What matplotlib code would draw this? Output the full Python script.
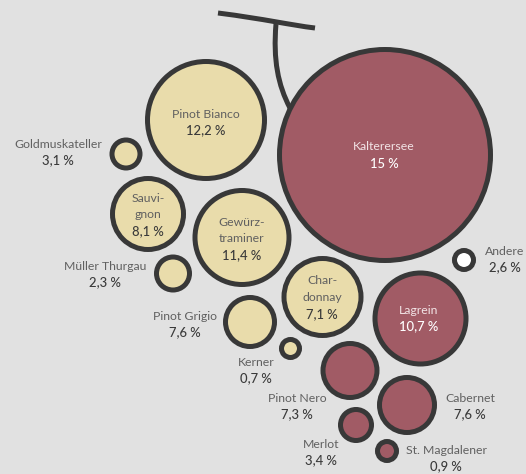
import matplotlib.pyplot as plt
from matplotlib.patches import Circle
from matplotlib.path import Path
from matplotlib.patches import PathPatch

# Rebsorten und Anteile (Prozent)
sorten = ['Kalterersee', 'Pinot Bianco', 'Goldmuskateller', 'Sauvi-\ngnon', 'Gewürz-\ntraminer',
          'Müller Thurgau', 'Pinot Grigio', 'Kerner', 'Char-\ndonnay', 'Lagrein', 'Andere',
          'Pinot Nero', 'Cabernet', 'Merlot', 'St. Magdalener']
anteile = ['15', '12,2', '3,1', '8,1', '11,4', '2,3', '7,6', '0,7', '7,1', '10,7', '2,6',
           '7,3', '7,6', '3,4', '0,9']
art = ['rot', 'weiss', 'weiss', 'weiss', 'weiss', 'weiss', 'weiss', 'weiss', 'weiss', 'rot',
       'andere', 'rot', 'rot', 'rot', 'rot']

# Layout (Pixel): Mittelpunkt und Radius der Beeren
mx = [385, 206, 126, 148, 242, 173, 250, 290.5, 322.5, 420.5, 464, 350, 407, 356, 387]
my = [155, 120, 154, 214, 237.5, 273.5, 322, 348.5, 297, 318.5, 260, 370.5, 405, 425, 451]
rad = [108, 61, 16.5, 38, 49.5, 19, 27, 11.5, 41, 48, 12, 29.5, 30, 18, 12]
# Beschriftung: innen oder Position aussen
innen = [True, True, False, True, True, False, False, False, True, True, False,
         False, False, False, False]
lx = [384, 206, 58, 148, 242, 105, 185, 256, 322, 419, 505, 297, 470, 321, 446]
ly = [147, 114, 144, 198, 222, 266, 316, 362, 281, 310, 251, 398, 398, 444, 450]

farben = {'rot': '#a15b65', 'weiss': '#e9dcab', 'andere': '#ffffff'}
rand = '#383838'
hg = '#e1e1e1'

fig = plt.figure(figsize=(5.26, 4.74), dpi=100)
fig.patch.set_facecolor(hg)
ax = fig.add_axes([0, 0, 1, 1])
ax.set_xlim(0, 526)
ax.set_ylim(474, 0)
ax.set_aspect('equal')
ax.axis('off')

lw = 3.6
# Stiel
stiel1 = Path([(218, 13), (265, 19), (290, 25), (315, 28)],
              [Path.MOVETO, Path.CURVE4, Path.CURVE4, Path.CURVE4])
stiel2 = Path([(276, 24), (273, 60), (278, 85), (290, 108)],
              [Path.MOVETO, Path.CURVE4, Path.CURVE4, Path.CURVE4])
for p in (stiel1, stiel2):
    ax.add_patch(PathPatch(p, facecolor='none', edgecolor=rand, lw=lw, capstyle='butt'))

for i in range(len(sorten)):
    c = Circle((mx[i], my[i]), rad[i] - 2.5, facecolor=farben[art[i]], edgecolor=rand,
               lw=lw, zorder=3)
    ax.add_patch(c)
    zeilen = sorten[i].split('\n')
    if innen[i] and art[i] == 'rot':
        c1, c2 = '#f2e4e6', '#ffffff'
    else:
        c1, c2 = '#606060', '#3a3a3a'
    y = ly[i]
    for z in zeilen:
        ax.text(lx[i], y, z, ha='center', va='center', fontsize=8.8, color=c1,
                family='Lato', zorder=5)
        y += 16.5
    ax.text(lx[i], y, anteile[i] + ' %', ha='center', va='center', fontsize=9.4,
            color=c2, family='Lato', fontweight='medium', zorder=5)

fig.savefig('out.png', dpi=100, facecolor=hg)
